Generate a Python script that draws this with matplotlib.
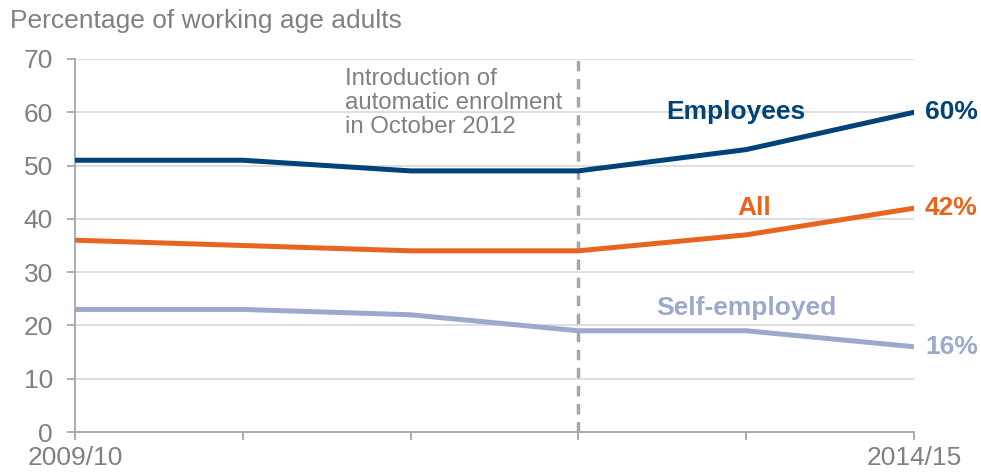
import matplotlib
matplotlib.use("Agg")
import matplotlib.pyplot as plt

plt.rcParams["font.family"] = ["Liberation Sans", "DejaVu Sans"]

YEARS = ["2009/10", "2010/11", "2011/12", "2012/13", "2013/14", "2014/15"]
EMPLOYEES = [51, 51, 49, 49, 53, 60]
ALL = [36, 35, 34, 34, 37, 42]
SELF_EMPLOYED = [23, 23, 22, 19, 19, 16]
AE_INTRO_INDEX = 3

C_EMP = "#00427A"
C_ALL = "#E8651F"
C_SELF = "#9DA9CC"
GREY = "#808080"
AXIS = "#A6A6A6"
GRID = "#D9D9D9"

fig = plt.figure(figsize=(9.81, 4.76), dpi=100)
ax = fig.add_axes([75 / 981, 44 / 476, 839 / 981, 373 / 476])

x = list(range(len(YEARS)))
for y in range(10, 80, 10):
    ax.axhline(y, color=GRID, linewidth=1.2, zorder=1)

ax.axvline(AE_INTRO_INDEX, color=AXIS, linewidth=2.5, linestyle=(0, (3, 2.2)), zorder=2)

ax.plot(x, SELF_EMPLOYED, color=C_SELF, linewidth=3.6, solid_capstyle="round", zorder=3)
ax.plot(x, ALL, color=C_ALL, linewidth=3.6, solid_capstyle="round", zorder=3)
ax.plot(x, EMPLOYEES, color=C_EMP, linewidth=3.6, solid_capstyle="round", zorder=3)

ax.set_xlim(0, len(YEARS) - 1)
ax.set_ylim(0, 70)
ax.set_yticks(range(0, 80, 10))
ax.set_xticks(x)
ax.set_xticklabels([YEARS[0], "", "", "", "", YEARS[-1]])

for s in ["top", "right"]:
    ax.spines[s].set_visible(False)
for s in ["left", "bottom"]:
    ax.spines[s].set_color(AXIS)
    ax.spines[s].set_linewidth(1.3)

ax.tick_params(axis="y", colors=AXIS, labelcolor=GREY, labelsize=19, length=6, width=1.3, pad=10)
ax.tick_params(axis="x", colors=AXIS, labelcolor=GREY, labelsize=19, length=6, width=1.3, pad=4)

fig.text(10 / 981, 1 - 21 / 476, "Percentage of working age adults", color=GREY,
         fontsize=19, ha="left", va="center")

ax.text(1.61, 68.4, "Introduction of\nautomatic enrolment\nin October 2012", color=GREY,
        fontsize=17.3, ha="left", va="top", linespacing=1.12)

lab_kw = dict(fontsize=19, fontweight="bold", va="center")
ax.text(3.94, 60, "Employees", color=C_EMP, ha="center", **lab_kw)
ax.text(4.05, 42, "All", color=C_ALL, ha="center", **lab_kw)
ax.text(4.0, 23.3, "Self-employed", color=C_SELF, ha="center", **lab_kw)

last = len(YEARS) - 1
for series, col in [(EMPLOYEES, C_EMP), (ALL, C_ALL), (SELF_EMPLOYED, C_SELF)]:
    ax.annotate(f"{series[-1]}%", (last, series[-1]), xytext=(8, 0),
                textcoords="offset points", color=col, ha="left", annotation_clip=False,
                **lab_kw)

fig.savefig("out.png", dpi=100)
